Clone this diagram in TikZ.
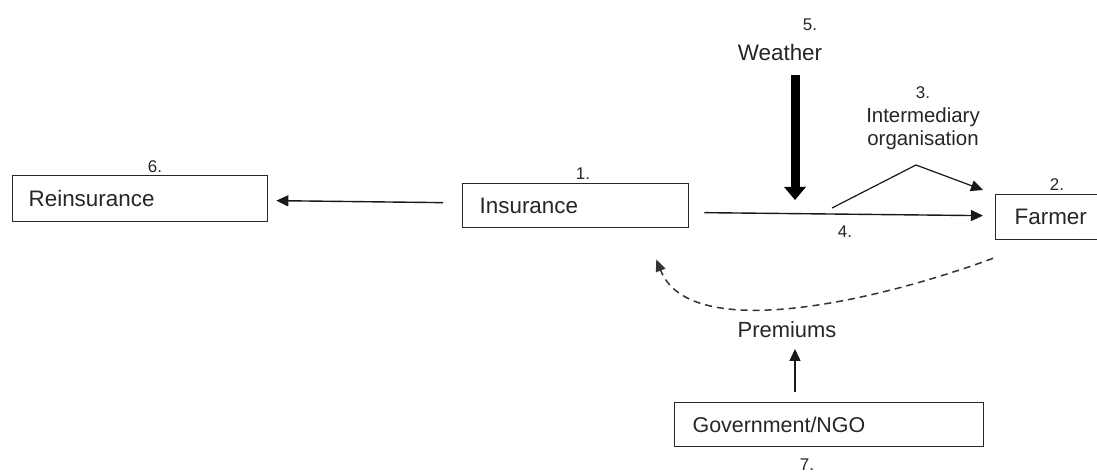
\documentclass[tikz,border=0pt]{standalone}
\usepackage{fontspec}
\setmainfont{Liberation Sans}
\usetikzlibrary{arrows.meta,calc}
\begin{document}
\begin{tikzpicture}[x=1bp,y=-1bp,
  box/.style={draw=black!85, line width=1.3bp, inner ysep=0pt, anchor=north west,
    align=left, text=black!85, font=\fontsize{22.5}{27}\selectfont},
  num/.style={inner sep=0pt, text=black!85, font=\fontsize{17}{20}\selectfont},
  lbl/.style={inner sep=0pt, text=black!85, align=center, font=\fontsize{20.5}{23}\selectfont},
  big/.style={inner sep=0pt, text=black!85, font=\fontsize{22.5}{27}\selectfont},
  arr/.style={line width=1.4bp, draw=black!90, -{Triangle[length=12bp,width=11bp]}},
  thickarr/.style={line width=9bp, draw=black, -{Triangle[length=13bp,width=21bp]}},
  dasharr/.style={line width=1.5bp, draw=black!80, dash pattern=on 7bp off 5bp,
    -{Triangle[length=12bp,width=10bp]}}
]
\useasboundingbox (0,0) rectangle (1097,474);
\fill[white] (0,0) rectangle (1097,474);

% boxes
\node[box, text width=223bp, inner xsep=16bp, minimum height=46bp] (rein) at (12,175) {Reinsurance};
\node[box, text width=192bp, inner xsep=17bp, minimum height=44bp] (ins) at (462,183) {Insurance};
\node[box, text width=75bp, inner xsep=19bp, minimum height=45bp] (farmer) at (995,194) {Farmer};
\node[box, text width=273bp, inner xsep=18bp, minimum height=44bp,
      font=\fontsize{21.5}{26}\selectfont] (gov) at (674,402) {Government/NGO};

% numbers
\node[num] (n6) at (155,167) {6.};
\node[num] (n1) at (583,174) {1.};
\node[num] (n2) at (1057,185) {2.};
\node[num] (n3) at (923,93) {3.};
\node[num] (n4) at (845,232) {4.};
\node[num] (n5) at (810,25) {5.};
\node[num] (n7) at (807,465) {7.};

% labels
\node[big] (weather) at (780,52) {Weather};
\node[lbl] (inter) at (923,129) {Intermediary\\organisation};
\node[big, font=\fontsize{22}{26}\selectfont] (prem) at (787,330) {Premiums};

% connectors
\draw[arr] ($(ins.west)+(-19,-3)$) -- ($(rein.east)+(8,2)$);
\draw[arr] ($(ins.east)+(15,7)$) -- ($(farmer.west)+(-12,-1.5)$);

\coordinate (ib) at (832,208);
\coordinate (ia) at (916,165);
\draw[arr, line width=1.2bp] (ib) -- (ia) -- ($(farmer.north west)+(-12,-4)$);

\coordinate (wt) at (795,75);
\coordinate (wb) at (795,200);
\draw[thickarr] (wt) -- (wb);

\draw[arr] ($(gov.north west)+(121,-10)$) -- ($(gov.north west)+(121,-53)$);

\draw[dasharr] ($(farmer.south west)+(-2,18)$) .. controls (880,300) and (690,345) .. ($(ins.south east)+(-33,31)$);
\end{tikzpicture}
\end{document}
